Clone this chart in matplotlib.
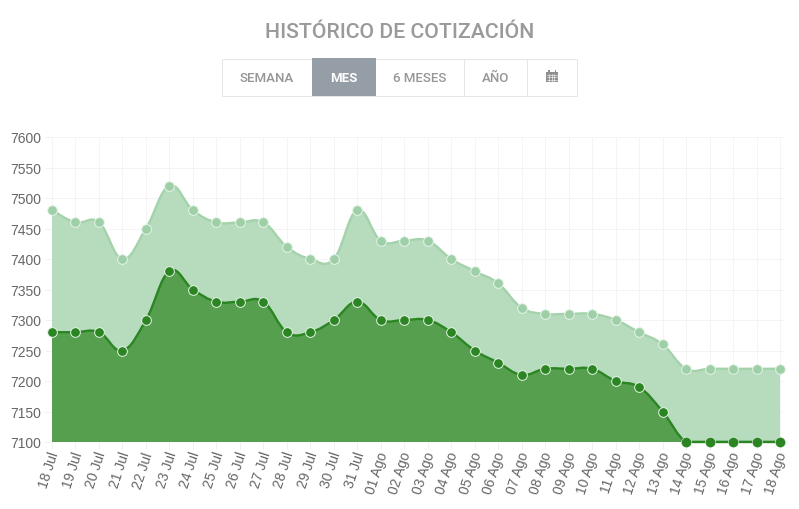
import matplotlib
matplotlib.use("Agg")
import matplotlib.pyplot as plt
from matplotlib.patches import Rectangle, PathPatch
from matplotlib.path import Path
from matplotlib.transforms import ScaledTranslation

dates = ["18 Jul", "19 Jul", "20 Jul", "21 Jul", "22 Jul", "23 Jul", "24 Jul", "25 Jul",
         "26 Jul", "27 Jul", "28 Jul", "29 Jul", "30 Jul", "31 Jul", "01 Ago", "02 Ago",
         "03 Ago", "04 Ago", "05 Ago", "06 Ago", "07 Ago", "08 Ago", "09 Ago", "10 Ago",
         "11 Ago", "12 Ago", "13 Ago", "14 Ago", "15 Ago", "16 Ago", "17 Ago", "18 Ago"]
maximo = [7480, 7460, 7460, 7400, 7450, 7520, 7480, 7460, 7460, 7460, 7420, 7400, 7400, 7480,
          7430, 7430, 7430, 7400, 7380, 7360, 7320, 7310, 7310, 7310, 7300, 7280, 7260, 7220,
          7220, 7220, 7220, 7220]
minimo = [7280, 7280, 7280, 7250, 7300, 7380, 7350, 7330, 7330, 7330, 7280, 7280, 7300, 7330,
          7300, 7300, 7300, 7280, 7250, 7230, 7210, 7220, 7220, 7220, 7200, 7190, 7150, 7100,
          7100, 7100, 7100, 7100]
y_ticks = [7100, 7150, 7200, 7250, 7300, 7350, 7400, 7450, 7500, 7550, 7600]
botones = ["SEMANA", "MES", "6 MESES", "AÑO"]

W, H = 799, 510
YMIN, YMAX = 7100, 7600


def spline_path(xs, ys, tension=0.4):
    # bezier segments with tangents from the neighbouring points
    verts = [(xs[0], ys[0])]
    codes = [Path.MOVETO]
    n = len(xs)
    for i in range(n - 1):
        x0, y0 = xs[max(i - 1, 0)], ys[max(i - 1, 0)]
        x1, y1 = xs[i], ys[i]
        x2, y2 = xs[i + 1], ys[i + 1]
        x3, y3 = xs[min(i + 2, n - 1)], ys[min(i + 2, n - 1)]
        c1 = (x1 + (x2 - x0) * tension / 2, min(y1 + (y2 - y0) * tension / 2, YMAX))
        c2 = (x2 - (x3 - x1) * tension / 2, y2 - (y3 - y1) * tension / 2)
        c1 = (c1[0], max(c1[1], YMIN))
        c2 = (c2[0], max(c2[1], YMIN))
        verts += [c1, c2, (x2, y2)]
        codes += [Path.CURVE4] * 3
    return verts, codes


def area_patch(xs, ys, color):
    verts, codes = spline_path(xs, ys)
    verts = verts + [(xs[-1], YMIN), (xs[0], YMIN), (xs[0], ys[0])]
    codes = codes + [Path.LINETO, Path.LINETO, Path.CLOSEPOLY]
    return PathPatch(Path(verts, codes), facecolor=color, edgecolor="none", zorder=2)


def line_patch(xs, ys, color, lw):
    verts, codes = spline_path(xs, ys)
    return PathPatch(Path(verts, codes), facecolor="none", edgecolor=color, lw=lw, zorder=3,
                     capstyle="round", joinstyle="round")


fig = plt.figure(figsize=(W / 100, H / 100), dpi=100, facecolor="white")

# cabecera y botones, en pixeles
top = fig.add_axes([0, 0, 1, 1])
top.set_xlim(0, W)
top.set_ylim(H, 0)
top.axis("off")
top.text(399.5, 32.5, "HISTÓRICO DE COTIZACIÓN", ha="center", va="center", color="#9a9a9a",
         fontsize=15.3, fontweight="medium", family="Roboto")

centros = [267, 344, 420, 496]
top.add_patch(Rectangle((222, 59.5), 354.5, 37, facecolor="white", edgecolor="#e6e6e6", lw=0.72))
top.add_patch(Rectangle((312, 59), 64, 38, facecolor="#959da7", edgecolor="none", zorder=2))
for b in (464, 527):
    top.plot([b, b], [59.5, 96.5], color="#e6e6e6", lw=0.72)
for nombre, cx in zip(botones, centros):
    activo = nombre == "MES"
    top.text(cx, 78, nombre, ha="center", va="center", fontsize=9.5, family="Roboto",
             fontweight="bold" if activo else "medium",
             color="white" if activo else "#969696", zorder=3)

# icono de calendario
top.add_patch(Rectangle((546, 72.5), 12, 10.5, facecolor="#8e8e8e", edgecolor="none"))
top.add_patch(Rectangle((548, 70.5), 1.5, 2.5, facecolor="#8e8e8e", edgecolor="none"))
top.add_patch(Rectangle((554.5, 70.5), 1.5, 2.5, facecolor="#8e8e8e", edgecolor="none"))
for gy in (75.5, 78, 80.5):
    top.plot([547, 557], [gy, gy], color="white", lw=0.4)
for gx in (549, 551.5, 554):
    top.plot([gx, gx], [75, 82.5], color="white", lw=0.4)

# grafico
ax = fig.add_axes([52 / W, 1 - 443 / H, 733 / W, (443 - 138) / H])
x = list(range(len(dates)))
ax.set_xlim(0, 31 * 733 / 728)
ax.set_ylim(YMIN, YMAX)
ax.set_facecolor("none")
for s in ax.spines.values():
    s.set_visible(False)
ax.set_xticks(x)
ax.set_xticklabels(dates, rotation=72, ha="right", va="center", rotation_mode="anchor")
ax.set_yticks(y_ticks)
ax.tick_params(axis="both", length=5, width=0.72, color="#f0f0f0", labelcolor="#666666", labelsize=10)
ax.tick_params(axis="y", pad=3)
ax.tick_params(axis="x", pad=2)
offset = ScaledTranslation(3 / 100, 0, fig.dpi_scale_trans)
for lab in ax.get_xticklabels():
    lab.set_transform(lab.get_transform() + offset)
for lab in ax.get_xticklabels() + ax.get_yticklabels():
    lab.set_family("Liberation Sans")
ax.grid(True, color="#f4f4f4", lw=0.72, zorder=0)
ax.set_axisbelow(True)

ax.add_patch(area_patch(x, maximo, "#b6dcbd"))
ax.add_patch(area_patch(x, minimo, "#559f4f"))
ax.add_patch(line_patch(x, maximo, "#a4d2ab", 1.7))
ax.add_patch(line_patch(x, minimo, "#2b8522", 1.7))

ax.plot(x, maximo, "o", ms=7, mfc="#9fcfa7", mec="#e6f4e8", mew=0.7, zorder=5, clip_on=False)
ax.plot(x, minimo, "o", ms=7, mfc="#2b8522", mec="#e6f4e8", mew=0.7, zorder=5, clip_on=False)
# los puntos sobre el eje van sin borde claro
en_base = [i for i, v in zip(x, minimo) if v == YMIN]
ax.plot(en_base, [minimo[i] for i in en_base], "o", ms=6.6, mfc="#2b8522", mec="#2b8522", mew=0.3,
        zorder=6, clip_on=False)
ax.plot(en_base, [minimo[i] for i in en_base], color="#2b8522", lw=1.7, zorder=4, clip_on=False)

fig.savefig("out.png", dpi=100)
